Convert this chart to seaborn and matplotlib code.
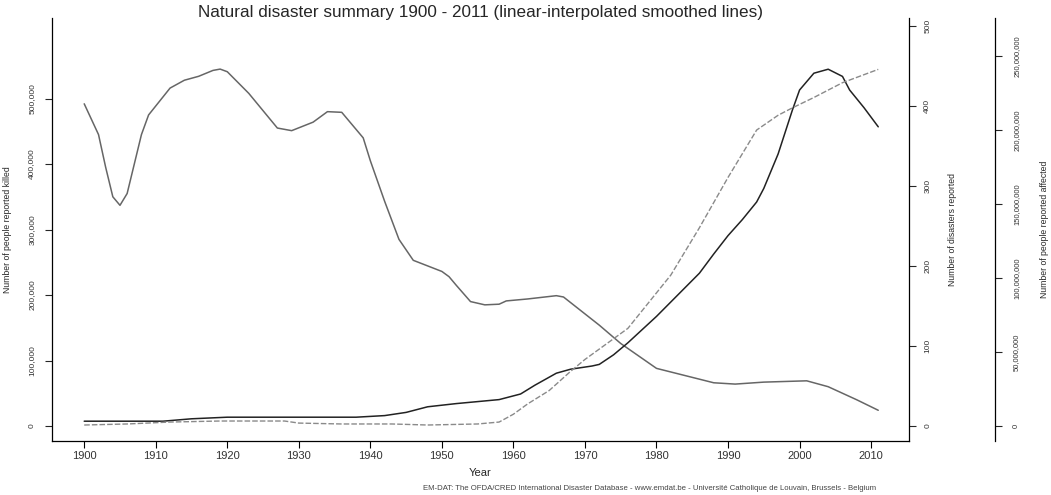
import matplotlib
matplotlib.use('Agg')
import matplotlib.pyplot as plt
import matplotlib.ticker as mticker
import pandas as pd
import seaborn as sns

# Number of people reported killed (left axis)
killed_years = [1900, 1902, 1903, 1904, 1905, 1906, 1907, 1908, 1909, 1912, 1914, 1916,
                1918, 1919, 1920, 1923, 1927, 1929, 1932, 1934, 1936, 1939, 1940, 1942,
                1944, 1946, 1950, 1951, 1952, 1954, 1956, 1958, 1959, 1962, 1966, 1967,
                1972, 1975, 1980, 1984, 1988, 1991, 1995, 2001, 2004, 2008, 2011]
killed = [492000, 445000, 395000, 350000, 337000, 355000, 400000, 445000, 475000, 516000,
          528000, 534000, 543000, 545000, 541000, 508000, 455000, 451000, 464000, 480000,
          479000, 440000, 405000, 343000, 285000, 253000, 236000, 228000, 215000, 190000,
          185000, 186000, 191000, 194000, 199000, 197000, 154000, 126000, 88000, 77000,
          66000, 64000, 67000, 69000, 60000, 40000, 24000]

# Number of disasters reported (right axis 1)
disaster_years = [1900, 1911, 1915, 1920, 1938, 1942, 1945, 1948, 1952, 1958, 1961, 1963,
                  1966, 1968, 1971, 1972, 1974, 1976, 1980, 1982, 1986, 1988, 1990, 1992,
                  1994, 1995, 1997, 1999, 2000, 2002, 2004, 2006, 2007, 2009, 2011]
disasters = [6, 6, 9, 11, 11, 13, 17, 24, 28, 33, 40, 51, 66, 71, 75, 77, 89, 104, 137, 155,
             191, 215, 238, 258, 280, 297, 340, 395, 420, 441, 446, 437, 420, 398, 374]

# Number of people reported affected (right axis 2)
affected_years = [1900, 1906, 1912, 1919, 1928, 1930, 1936, 1943, 1948, 1955, 1958, 1960,
                  1962, 1965, 1968, 1970, 1972, 1976, 1980, 1982, 1986, 1990, 1994, 1997,
                  1999, 2002, 2006, 2011]
affected = [0.7e6, 1.4e6, 2.7e6, 3.4e6, 3.4e6, 2.0e6, 1.4e6, 1.4e6, 0.7e6, 1.4e6, 2.7e6,
            8e6, 15e6, 24e6, 37e6, 45e6, 52e6, 66e6, 90e6, 102e6, 134e6, 168e6, 200e6,
            210e6, 215e6, 222e6, 232e6, 241e6]

sns.set_theme(style='white')
plt.rcParams['font.family'] = ['Liberation Sans', 'DejaVu Sans']

fig = plt.figure(figsize=(10.51, 4.95), dpi=100)
ax = fig.add_axes([0.0495, 0.1091, 0.8154, 0.8545])
ax2 = ax.twinx()
ax3 = ax.twinx()

sns.lineplot(x=killed_years, y=killed, ax=ax, color='#666666', linewidth=1.1)
sns.lineplot(x=disaster_years, y=disasters, ax=ax2, color='#222222', linewidth=1.1)
sns.lineplot(x=affected_years, y=affected, ax=ax3, color='#8a8a8a', linewidth=1.0,
             linestyle=(0, (4, 1.5)))

ax.set_xlim(1895.5, 2015.3)
ax.set_ylim(-22900, 623000)
ax2.set_ylim(-18.75, 510)
ax3.set_ylim(-10.1e6, 275.7e6)

ax.set_xticks(range(1900, 2011, 10))
ax.set_yticks(range(0, 500001, 100000))
ax2.set_yticks(range(0, 501, 100))
ax3.set_yticks([0, 50e6, 100e6, 150e6, 200e6, 250e6])
fmt = mticker.FuncFormatter(lambda v, p: f'{v:,.0f}')
ax.yaxis.set_major_formatter(fmt)
ax3.yaxis.set_major_formatter(fmt)

for a in (ax, ax2, ax3):
    for s in a.spines.values():
        s.set_visible(False)
        s.set_color('black')
        s.set_linewidth(0.9)
ax.spines['left'].set_visible(True)
ax.spines['bottom'].set_visible(True)
ax2.spines['right'].set_visible(True)
ax3.spines['right'].set_visible(True)
ax3.spines['right'].set_position(('outward', 62))

ax.tick_params(axis='x', direction='out', length=5, width=0.8, pad=2, labelsize=8,
               colors='black', bottom=True)
ax.tick_params(axis='y', direction='out', length=5, width=0.8, pad=7, labelsize=6,
               labelrotation=90, left=True, labelcolor='#333333')
ax2.tick_params(axis='y', direction='out', length=5, width=0.8, pad=6, labelsize=6,
                labelrotation=90, right=True, labelcolor='#333333')
ax3.tick_params(axis='y', direction='out', length=5, width=0.8, pad=8, labelsize=5.5,
                labelrotation=90, right=True, labelcolor='#333333')
for a in (ax, ax2, ax3):
    for lab in a.get_yticklabels():
        lab.set_va('center')
for lab in ax.get_xticklabels():
    lab.set_color('#333333')

ax.set_xlabel('Year', fontsize=8)
ax.xaxis.set_label_coords(0.5, -0.063)
ax.set_ylabel('Number of people reported killed', fontsize=6.2)
ax.yaxis.set_label_coords(-0.047, 0.5)
ax2.set_ylabel('Number of disasters reported', fontsize=6.2)
ax2.yaxis.set_label_coords(1.046, 0.5)
ax3.set_ylabel('Number of people reported affected', fontsize=6.2)
ax3.yaxis.set_label_coords(1.153, 0.5)

fig.text(480 / 1051, 1 - 13 / 495,
         'Natural disaster summary 1900 - 2011 (linear-interpolated smoothed lines)',
         ha='center', va='center', fontsize=12.3)
fig.text(650 / 1051, 1 - 488 / 495,
         'EM-DAT: The OFDA/CRED International Disaster Database - www.emdat.be - '
         'Université Catholique de Louvain, Brussels - Belgium',
         ha='center', va='center', fontsize=5.6, color='#444444')

fig.savefig('out.png', dpi=100)
